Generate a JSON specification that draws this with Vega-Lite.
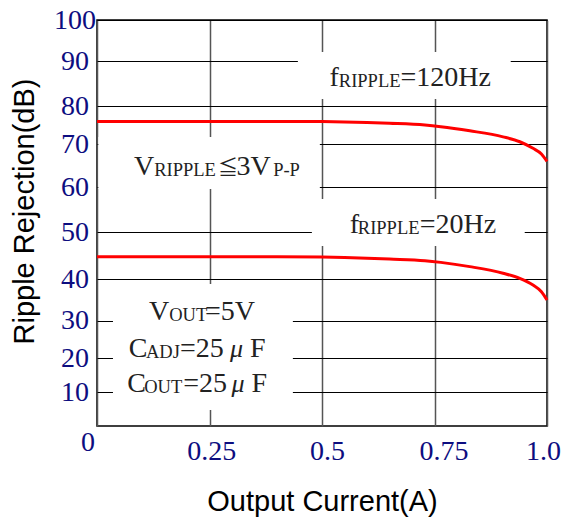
{
  "$schema": "https://vega.github.io/schema/vega-lite/v6.json",
  "width": 450,
  "height": 406,
  "autosize": {"type": "none"},
  "padding": {"left": 97, "top": 20, "right": 23, "bottom": 98},
  "background": "white",
  "config": {
    "view": {"stroke": "#000000", "strokeWidth": 1.5}
  },
  "datasets": {
    "masks": [
      {"x": 0.4464, "x2": 0.9194, "y": 92.25, "y2": 81.6},
      {"x": 0.003, "x2": 0.4952, "y": 71.86, "y2": 59.6},
      {"x": 0.4775, "x2": 0.9505, "y": 57.4, "y2": 47.1},
      {"x": 0.0355, "x2": 0.4353, "y": 38.86, "y2": 4.7}
    ],
    "curves": [
      {"series": "120Hz", "x": 0, "y": 76.0},
      {"series": "120Hz", "x": 0.25, "y": 76.0},
      {"series": "120Hz", "x": 0.4, "y": 76.0},
      {"series": "120Hz", "x": 0.5, "y": 75.95},
      {"series": "120Hz", "x": 0.55, "y": 75.85},
      {"series": "120Hz", "x": 0.6, "y": 75.7},
      {"series": "120Hz", "x": 0.65, "y": 75.5},
      {"series": "120Hz", "x": 0.7287, "y": 75.04},
      {"series": "120Hz", "x": 0.764, "y": 74.6},
      {"series": "120Hz", "x": 0.8284, "y": 73.5},
      {"series": "120Hz", "x": 0.9023, "y": 71.9},
      {"series": "120Hz", "x": 0.9395, "y": 70.6},
      {"series": "120Hz", "x": 0.9689, "y": 69.0},
      {"series": "120Hz", "x": 0.9876, "y": 67.7},
      {"series": "120Hz", "x": 1.0, "y": 66.0},
      {"series": "20Hz", "x": 0, "y": 44.8},
      {"series": "20Hz", "x": 0.25, "y": 44.8},
      {"series": "20Hz", "x": 0.4, "y": 44.8},
      {"series": "20Hz", "x": 0.5, "y": 44.72},
      {"series": "20Hz", "x": 0.55, "y": 44.62},
      {"series": "20Hz", "x": 0.6, "y": 44.48},
      {"series": "20Hz", "x": 0.65, "y": 44.3},
      {"series": "20Hz", "x": 0.7287, "y": 43.96},
      {"series": "20Hz", "x": 0.764, "y": 43.6},
      {"series": "20Hz", "x": 0.8284, "y": 42.7},
      {"series": "20Hz", "x": 0.9023, "y": 41.3},
      {"series": "20Hz", "x": 0.9395, "y": 40.2},
      {"series": "20Hz", "x": 0.9689, "y": 38.6},
      {"series": "20Hz", "x": 0.9876, "y": 37.0},
      {"series": "20Hz", "x": 1.0, "y": 35.0}
    ],
    "labels": [
      {"role": "main", "x": 0.5164, "y": 84.5, "t": "f"},
      {"role": "main", "x": 0.6744, "y": 84.5, "t": "=120Hz"},
      {"role": "main", "x": 0.0822, "y": 62.84, "t": "V"},
      {"role": "main", "x": 0.3102, "y": 62.84, "t": "3V"},
      {"role": "main", "x": 0.5618, "y": 49.8, "t": "f"},
      {"role": "main", "x": 0.7173, "y": 49.8, "t": "=20Hz"},
      {"role": "main", "x": 0.1155, "y": 30.17, "t": "V"},
      {"role": "main", "x": 0.2398, "y": 30.17, "t": "=5V"},
      {"role": "main", "x": 0.0704, "y": 20.43, "t": "C"},
      {"role": "main", "x": 0.1843, "y": 20.43, "t": "=25"},
      {"role": "main", "x": 0.3398, "y": 20.43, "t": "F"},
      {"role": "main", "x": 0.0673, "y": 10.18, "t": "C"},
      {"role": "main", "x": 0.1917, "y": 10.18, "t": "=25"},
      {"role": "main", "x": 0.3436, "y": 10.18, "t": "F"},
      {"role": "sub", "x": 0.5374, "y": 84.5, "t": "RIPPLE"},
      {"role": "sub", "x": 0.1272, "y": 62.84, "t": "RIPPLE"},
      {"role": "sub", "x": 0.3915, "y": 62.84, "t": "P-P"},
      {"role": "sub", "x": 0.5796, "y": 49.8, "t": "RIPPLE"},
      {"role": "sub", "x": 0.1605, "y": 30.17, "t": "OUT"},
      {"role": "sub", "x": 0.1088, "y": 20.43, "t": "ADJ"},
      {"role": "sub", "x": 0.105, "y": 10.18, "t": "OUT"},
      {"role": "sym", "x": 0.2687, "y": 62.84, "t": "≦"},
      {"role": "mu", "x": 0.2954, "y": 20.43, "t": "μ"},
      {"role": "mu", "x": 0.2991, "y": 10.18, "t": "μ"}
    ]
  },
  "encoding": {
    "x": {
      "field": "x",
      "type": "quantitative",
      "scale": {"domain": [0, 1], "nice": false, "zero": false},
      "axis": {
        "title": "Output Current(A)",
        "values": [0, 0.25, 0.5, 0.75, 1],
        "labelExpr": "datum.value == 0 ? '0' : datum.value == 0.25 ? '0.25' : datum.value == 0.5 ? '0.5' : datum.value == 0.75 ? '0.75' : '1.0'",
        "grid": true,
        "gridColor": "#555555",
        "gridWidth": 1.5,
        "ticks": false,
        "tickSize": 0,
        "domain": false,
        "labelFont": "Liberation Serif",
        "labelFontSize": 28,
        "labelColor": "#0d0d80",
        "labelPadding": {"condition": {"test": "datum.value == 0", "value": 2}, "value": 11},
        "labelOffset": {
          "condition": [
            {"test": "datum.value == 0", "value": -9.5},
            {"test": "datum.value == 0.25", "value": 1.7},
            {"test": "datum.value == 0.5", "value": 5},
            {"test": "datum.value == 0.75", "value": 9},
            {"test": "datum.value == 1", "value": -4}
          ],
          "value": 0
        },
        "labelFlush": false,
        "labelOverlap": false,
        "labelBound": false,
        "titleFont": "Liberation Sans",
        "titleFontSize": 29,
        "titleFontWeight": "normal",
        "titleColor": "#000000",
        "titlePadding": 22
      }
    },
    "y": {
      "field": "y",
      "type": "quantitative",
      "scale": {
        "domain": [0, 10, 20, 30, 40, 50, 60, 70, 80, 90, 100],
        "range": [405.7, 372.3, 338.3, 300.7, 259.3, 212.3, 167.3, 124, 86.3, 41.3, 0]
      },
      "axis": {
        "title": "Ripple Rejection(dB)",
        "values": [10, 20, 30, 40, 50, 60, 70, 80, 90, 100],
        "grid": true,
        "gridColor": "#000000",
        "gridWidth": 1.2,
        "ticks": false,
        "tickSize": 0,
        "domain": false,
        "labelAlign": "center",
        "labelBaseline": "middle",
        "labelPadding": 22.5,
        "labelFont": "Liberation Serif",
        "labelFontSize": 28,
        "labelColor": "#0d0d80",
        "labelFlush": false,
        "labelOverlap": false,
        "labelBound": false,
        "titleFont": "Liberation Sans",
        "titleFontSize": 29,
        "titleFontWeight": "normal",
        "titleColor": "#000000",
        "titlePadding": 14,
        "titleY": 191
      }
    }
  },
  "layer": [
    {
      "data": {"name": "masks"},
      "mark": {"type": "rect", "fill": "white", "stroke": null},
      "encoding": {"x2": {"field": "x2"}, "y2": {"field": "y2"}}
    },
    {
      "data": {"name": "curves"},
      "mark": {"type": "line", "color": "#ff0000", "strokeWidth": 3, "interpolate": "monotone"},
      "encoding": {"detail": {"field": "series"}}
    },
    {
      "data": {"name": "labels"},
      "transform": [{"filter": "datum.role == 'main'"}],
      "mark": {"type": "text", "align": "left", "baseline": "alphabetic", "font": "Liberation Serif", "fontSize": 28, "color": "#222222"},
      "encoding": {"text": {"field": "t"}}
    },
    {
      "data": {"name": "labels"},
      "transform": [{"filter": "datum.role == 'sub'"}],
      "mark": {"type": "text", "align": "left", "baseline": "alphabetic", "font": "Liberation Serif", "fontSize": 18.5, "dy": 1, "color": "#222222"},
      "encoding": {"text": {"field": "t"}}
    },
    {
      "data": {"name": "labels"},
      "transform": [{"filter": "datum.role == 'sym'"}],
      "mark": {"type": "text", "align": "left", "baseline": "alphabetic", "font": "Noto Sans CJK JP", "fontSize": 20, "color": "#222222"},
      "encoding": {"text": {"field": "t"}}
    },
    {
      "data": {"name": "labels"},
      "transform": [{"filter": "datum.role == 'mu'"}],
      "mark": {"type": "text", "align": "left", "baseline": "alphabetic", "font": "Liberation Serif", "fontStyle": "italic", "fontSize": 26, "color": "#222222"},
      "encoding": {"text": {"field": "t"}}
    }
  ]
}
